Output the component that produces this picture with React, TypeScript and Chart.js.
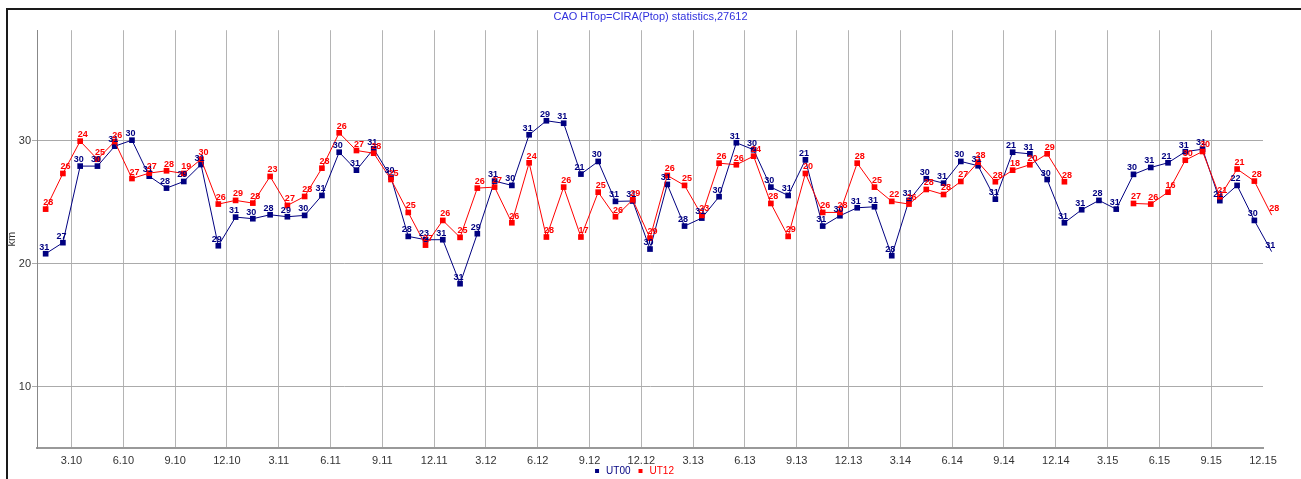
import React, { useEffect, useRef } from 'react';
import { Chart, registerables } from 'chart.js';

Chart.register(...registerables);

// ---------- data ----------
const chartTitle = 'CAO HTop=CIRA(Ptop) statistics,27612';
const yTitle = 'km';
const seriesNames = ['UT00', 'UT12'];
const seriesColors = ['#000080', '#ff0000'];

// monthly categories, Jan 2010 .. Dec 2015 ("m.yy")
const yearCodes = ['10', '11', '12', '13', '14', '15'];
const monthNumbers = [1, 2, 3, 4, 5, 6, 7, 8, 9, 10, 11, 12];
const months: string[] = [];
yearCodes.forEach((y) => monthNumbers.forEach((m) => months.push(`${m}.${y}`)));

const xTickLabels = [
  '3.10', '6.10', '9.10', '12.10',
  '3.11', '6.11', '9.11', '12.11',
  '3.12', '6.12', '9.12', '12.12',
  '3.13', '6.13', '9.13', '12.13',
  '3.14', '6.14', '9.14', '12.14',
  '3.15', '6.15', '9.15', '12.15',
];
const yTickValues = [10, 20, 30];

const ut00Values: (number | null)[] = [
  20.81, 21.71, 27.94, 27.94, 29.56, 30.05, 27.12, 26.15, 26.69, 28.07, 21.46, 23.79,
  23.66, 23.98, 23.82, 23.93, 25.55, 29.07, 27.61, 29.35, 27.04, 22.22, 21.95, 21.95,
  18.37, 22.44, 26.72, 26.37, 30.49, 31.63, 31.43, 27.29, 28.32, 25.07, 25.10, 21.19,
  26.45, 23.06, 23.71, 25.45, 29.84, 29.27, 26.23, 25.55, 28.45, 23.06, 23.90, 24.55,
  24.63, 20.65, 25.15, 26.91, 26.55, 28.32, 27.97, 25.25, 29.07, 28.94, 26.85, 23.33,
  24.39, 25.15, 24.44, 27.27, 27.83, 28.21, 29.11, 29.32, 25.13, 26.37, 23.52, 20.98,
];
const ut00Labels: (number | null)[] = [
  31, 27, 30, 30, 31, 30, 31, 28, 29, 31, 29, 31,
  30, 28, 29, 30, 31, 30, 31, 31, 30, 28, 23, 31,
  31, 29, 31, 30, 31, 29, 31, 21, 30, 31, 31, 30,
  31, 28, 31, 30, 31, 30, 30, 31, 21, 31, 30, 31,
  31, 28, 31, 30, 31, 30, 31, 31, 21, 31, 30, 31,
  31, 28, 31, 30, 31, 21, 31, 31, 21, 22, 30, 31,
];
const ut12Values: (number | null)[] = [
  24.44, 27.34, 29.97, 28.50, 29.94, 26.93, 27.37, 27.56, 27.34, 28.50, 24.85, 25.15,
  24.93, 27.10, 24.74, 25.47, 27.77, 30.65, 29.21, 28.99, 26.85, 24.17, 21.51, 23.52,
  22.14, 26.15, 26.23, 23.33, 28.21, 22.17, 26.23, 22.17, 25.82, 23.82, 25.20, 22.08,
  27.18, 26.37, 23.93, 28.18, 28.05, 28.75, 24.90, 22.22, 27.34, 24.17, 24.17, 28.18,
  26.23, 25.07, 24.85, 26.04, 25.63, 26.69, 28.26, 26.67, 27.61, 28.05, 28.94, 26.67,
  null, null, null, 24.90, 24.85, 25.82, 28.42, 29.13, 25.45, 27.70, 26.72, 23.95,
];
const ut12Labels: (number | null)[] = [
  28, 26, 24, 25, 26, 27, 27, 28, 19, 30, 26, 29,
  28, 23, 27, 28, 28, 26, 27, 28, 25, 25, 27, 26,
  25, 26, 27, 26, 24, 28, 26, 17, 25, 26, 29, 29,
  26, 25, 23, 26, 26, 24, 28, 29, 20, 26, 28, 28,
  25, 22, 26, 28, 28, 27, 28, 28, 18, 20, 29, 28,
  null, null, null, 27, 26, 16, 30, 30, 21, 21, 28, 28,
];

const seriesValues = [ut00Values, ut12Values];
const seriesLabels = [ut00Labels, ut12Labels];
const labelOffsets = [-1.5, 2.5];

const FONT = '"Liberation Sans", Arial, sans-serif';

const pointLabelsPlugin = {
  id: 'pointLabels',
  afterDatasetsDraw(chart: any) {
    const ctx = chart.ctx as CanvasRenderingContext2D;
    ctx.save();
    ctx.font = `bold 9px ${FONT}`;
    ctx.textAlign = 'center';
    ctx.textBaseline = 'alphabetic';
    [0, 1].forEach((di) => {
      const meta = chart.getDatasetMeta(di);
      const labels = seriesLabels[di];
      ctx.fillStyle = seriesColors[di];
      meta.data.forEach((el: any, i: number) => {
        const lab = labels[i];
        if (lab == null || el.skip || !isFinite(el.y)) return;
        ctx.fillText(String(lab), el.x + labelOffsets[di], el.y - 4);
      });
    });
    ctx.restore();
  },
};

// move the legend row up/left to where the reference shows it
const legendShiftPlugin = {
  id: 'legendShift',
  afterLayout(chart: any) {
    const lg = chart.legend;
    if (lg) {
      lg.left -= 17;
      lg.right -= 17;
      lg.top -= 14;
      lg.bottom -= 14;
    }
  },
};

export default function App() {
  const ref = useRef<HTMLCanvasElement | null>(null);

  useEffect(() => {
    if (!ref.current) return;
    const datasets = seriesNames.map((name, di) => ({
      label: name,
      data: seriesValues[di].map((v, i) => ({ x: i + 0.5, y: v })),
      borderColor: seriesColors[di],
      backgroundColor: seriesColors[di],
      pointBackgroundColor: seriesColors[di],
      pointBorderColor: seriesColors[di],
      pointBorderWidth: 0,
      pointStyle: 'rect',
      pointRadius: 4,
      borderWidth: 1,
      tension: 0,
      spanGaps: false,
      clip: false as any,
      order: di === 0 ? 1 : 0,
    }));

    const chart = new Chart(ref.current, {
      type: 'line',
      data: { datasets: datasets as any },
      options: {
        animation: false,
        responsive: false,
        devicePixelRatio: 1,
        layout: { padding: { left: 0, right: 0, top: 0, bottom: 0 } },
        scales: {
          x: {
            type: 'linear',
            min: 0,
            max: months.length - 1,
            afterBuildTicks: (s: any) => {
              s.ticks = xTickLabels.map((l) => ({ value: months.indexOf(l) }));
            },
            afterFit: (s: any) => {
              s.height = 26;
            },
            grid: {
              color: (c: any) =>
                c.tick && c.tick.value === months.length - 1 ? 'rgba(0,0,0,0)' : '#b4b4b4',
              lineWidth: 1,
              drawTicks: false,
            },
            border: { color: '#999999', width: 2 },
            ticks: {
              autoSkip: false,
              maxRotation: 0,
              padding: 6,
              color: '#333333',
              font: { family: FONT, size: 11 },
              callback: (_v: any, idx: number) => xTickLabels[idx],
            },
          },
          y: {
            type: 'linear',
            min: 5,
            max: 39,
            afterBuildTicks: (s: any) => {
              s.ticks = yTickValues.map((v) => ({ value: v }));
            },
            afterFit: (s: any) => {
              s.width = 37;
            },
            title: {
              display: true,
              text: yTitle,
              color: '#333333',
              font: { family: FONT, size: 11 },
              padding: { top: 5, bottom: 0 },
            },
            grid: { color: '#ababab', lineWidth: 1, tickLength: 5 },
            border: { color: '#888888', width: 1 },
            ticks: {
              padding: 1,
              color: '#333333',
              font: { family: FONT, size: 11 },
            },
          },
          y2: {
            type: 'linear',
            position: 'right',
            display: true,
            afterFit: (s: any) => {
              s.width = 38;
            },
            grid: { display: false },
            ticks: { display: false },
            border: { display: false },
          },
        },
        plugins: {
          title: {
            display: true,
            text: chartTitle,
            color: '#3030dd',
            font: { family: FONT, size: 11, weight: 'normal' },
            padding: { top: 10, bottom: 7 },
          },
          legend: {
            display: true,
            position: 'bottom',
            labels: {
              usePointStyle: true,
              boxWidth: 8,
              boxHeight: 4,
              padding: 6,
              font: { family: FONT, size: 10 },
              sort: (a: any, b: any) => a.datasetIndex - b.datasetIndex,
              generateLabels: (ch: any) => {
                const items = (Chart.defaults as any).plugins.legend.labels.generateLabels(ch);
                items.forEach((it: any) => {
                  it.fontColor = seriesColors[it.datasetIndex];
                  it.fillStyle = seriesColors[it.datasetIndex];
                  it.strokeStyle = seriesColors[it.datasetIndex];
                  it.lineWidth = 0;
                  it.pointStyle = 'rect';
                });
                return items;
              },
            },
          },
          tooltip: { enabled: false },
        },
      } as any,
      plugins: [pointLabelsPlugin, legendShiftPlugin],
    });

    return () => chart.destroy();
  }, []);

  return (
    <div
      style={{
        position: 'absolute',
        left: 0,
        top: 0,
        width: 1301,
        height: 479,
        overflow: 'hidden',
        background: '#ffffff',
      }}
    >
      <div
        style={{
          position: 'absolute',
          left: 6,
          top: 8,
          width: 1400,
          height: 600,
          borderLeft: '2px solid #1a1a1a',
          borderTop: '2px solid #1a1a1a',
        }}
      />
      <canvas
        ref={ref}
        width={1301}
        height={500}
        style={{ position: 'absolute', left: 0, top: 0, width: 1301, height: 500 }}
      />
    </div>
  );
}
